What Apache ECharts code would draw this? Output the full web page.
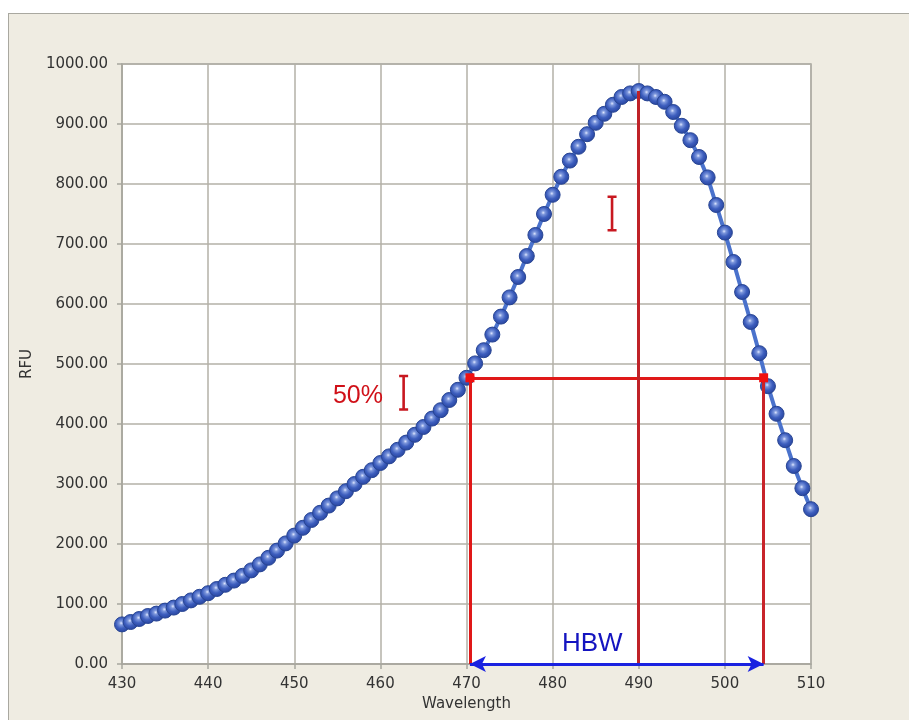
<!DOCTYPE html>
<html><head><meta charset="utf-8">
<script src="https://cdn.jsdelivr.net/npm/echarts@6/dist/echarts.min.js"></script>
<style>
html,body{margin:0;padding:0;background:#fff;width:909px;height:720px;overflow:hidden;}
#frame{position:absolute;left:8px;top:13px;width:901px;height:707px;background:#efece2;border-top:1.5px solid #a9a8a0;border-left:1.5px solid #a9a8a0;box-sizing:border-box;}
#chart{position:absolute;left:0;top:0;width:909px;height:720px;}
</style>
</head><body><div id="frame"></div><div id="chart"></div>
<script>
// Wavelength (nm)
const wavelengths = [430,431,432,433,434,435,436,437,438,439,440,441,442,443,444,445,446,447,448,449,450,451,452,453,454,455,456,457,458,459,460,461,462,463,464,465,466,467,468,469,470,471,472,473,474,475,476,477,478,479,480,481,482,483,484,485,486,487,488,489,490,491,492,493,494,495,496,497,498,499,500,501,502,503,504,505,506,507,508,509,510];
// RFU values
const rfu = [66,70,75,80,84,89,94,100,106,112,118,125,132,139,147,156,166,177,189,201,214,227,240,252,264,276,288,300,312,323,335,346,357,369,382,395,409,423,440,457,477,501,523,549,579,611,645,680,715,750,782,812,839,862,883,902,917,932,945,951,955,951,945,937,920,897,873,845,811,765,719,670,620,570,518,463,417,373,330,293,258];

// Axis ticks
const xTickRange = [430, 510, 10];
const yTickRange = [0, 1000, 100];

// Annotation values
const peak = [490, 955];
const halfMax = 477;
const hbwBounds = [470.4, 504.5];
const textLabels = ['50%', 'HBW'];
const textPositions = [[457.4, 447], [484.6, 33]];
const iBeamPositions = [[462.7, 452], [486.9, 751]];

const FONT = 'DejaVu Sans';
const chart = echarts.init(document.getElementById('chart'), null, {renderer: 'canvas'});

const seriesData = wavelengths.map((w, i) => [w, rfu[i]]);
const solid = (color) => ({color: color, width: 3, type: 'solid', opacity: 1});

const option = {
  backgroundColor: 'transparent',
  animation: false,
  grid: {left: 122, right: 98, top: 64, bottom: 56, show: true, backgroundColor: '#ffffff', borderColor: '#a8a79e', borderWidth: 1.5, outerBoundsMode: 'none'},
  xAxis: {
    type: 'value', min: xTickRange[0], max: xTickRange[1], interval: xTickRange[2],
    name: 'Wavelength', nameLocation: 'middle', nameGap: 33,
    nameTextStyle: {fontFamily: FONT, fontSize: 15, color: '#333'},
    axisLine: {show: true, lineStyle: {color: '#a8a79e', width: 1.5}},
    axisTick: {show: true, length: 5, lineStyle: {color: '#a8a79e', width: 1.5}},
    axisLabel: {fontFamily: FONT, fontSize: 15, color: '#333', margin: 13},
    splitLine: {show: true, lineStyle: {color: '#b3b1a7', width: 1.5}}
  },
  yAxis: {
    type: 'value', min: yTickRange[0], max: yTickRange[1], interval: yTickRange[2],
    name: 'RFU', nameLocation: 'middle', nameGap: 86,
    nameTextStyle: {fontFamily: FONT, fontSize: 15, color: '#333'},
    axisLine: {show: true, lineStyle: {color: '#a8a79e', width: 1.5}},
    axisTick: {show: true, length: 5, lineStyle: {color: '#a8a79e', width: 1.5}},
    axisLabel: {fontFamily: FONT, fontSize: 15, color: '#333', margin: 14, formatter: v => v.toFixed(2)},
    splitLine: {show: true, lineStyle: {color: '#b3b1a7', width: 1.5}}
  },
  series: [
    {
      name: 'RFU', type: 'line', data: seriesData, z: 3,
      symbol: 'circle', symbolSize: 15, showSymbol: true,
      lineStyle: {color: '#4a72cc', width: 4},
      itemStyle: {
        color: new echarts.graphic.RadialGradient(0.45, 0.42, 0.6, [
          {offset: 0, color: '#dfe7ff'},
          {offset: 0.2, color: '#7d97dc'},
          {offset: 0.55, color: '#3d5ebe'},
          {offset: 1, color: '#25419a'}
        ]),
        borderColor: '#284593', borderWidth: 1
      }
    },
    {
      name: 'hbw', type: 'line', data: [], z: 5,
      markLine: {
        silent: true, symbol: 'none', animation: false,
        label: {show: false},
        lineStyle: {type: 'solid', width: 3},
        data: [
          [{coord: [hbwBounds[0], halfMax], lineStyle: solid('#e01818')}, {coord: [hbwBounds[1], halfMax]}],
          [{coord: [hbwBounds[0], halfMax], lineStyle: solid('#e01818')}, {coord: [hbwBounds[0], 0]}],
          [{coord: [peak[0], peak[1]], lineStyle: solid('#bf2228')}, {coord: [peak[0], 0]}],
          [{coord: [hbwBounds[1], halfMax], lineStyle: solid('#c8242a')}, {coord: [hbwBounds[1], 0]}]
        ]
      }
    },
    {
      name: 'arrow', type: 'line', data: [], z: 6,
      markLine: {
        silent: true, symbol: ['arrow', 'arrow'], symbolSize: [12, 16], animation: false,
        label: {show: false},
        lineStyle: solid('#1a22e0'),
        data: [[{coord: [hbwBounds[0], 0]}, {coord: [hbwBounds[1], 0]}]]
      }
    },
    {
      name: 'halfPoints', type: 'scatter', z: 7,
      data: hbwBounds.map(b => [b, halfMax]),
      symbol: 'rect', symbolSize: 9,
      itemStyle: {color: '#f01010', opacity: 1}
    },
    {
      name: 'iBeams', type: 'scatter', z: 7,
      data: iBeamPositions,
      symbol: 'path://M0,0H9V2.5H5.8V33.5H9V36H0V33.5H3.2V2.5H0Z', symbolSize: [9, 36], symbolKeepAspect: false,
      itemStyle: {color: '#c81820', opacity: 1}
    },
    {
      name: 'texts', type: 'scatter', z: 8,
      data: textPositions.map((p, i) => ({
        value: p,
        label: {
          show: true, position: 'inside', formatter: textLabels[i],
          fontFamily: 'Liberation Sans', fontSize: i === 0 ? 25 : 26,
          color: i === 0 ? '#d01018' : '#1414c0', opacity: 1
        }
      })),
      symbolSize: 0,
      itemStyle: {opacity: 1}
    }
  ]
};
chart.setOption(option);
</script>
</body></html>
